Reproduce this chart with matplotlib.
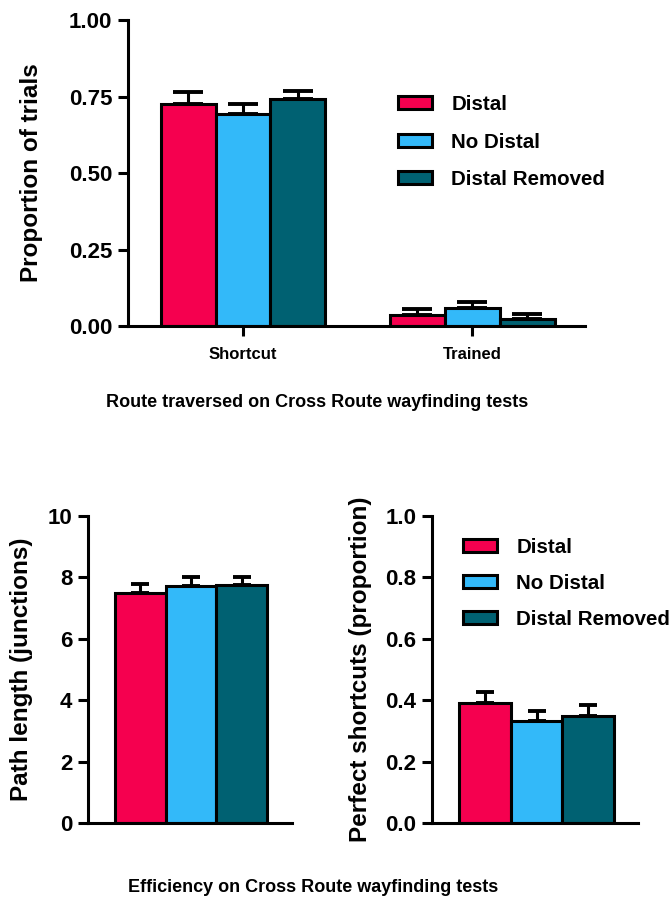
import matplotlib
matplotlib.use("Agg")
import matplotlib.pyplot as plt
import numpy as np
from matplotlib.patches import Patch

plt.rcParams['font.family'] = ['Liberation Sans', 'DejaVu Sans']
plt.rcParams['font.weight'] = 'bold'

groups = ["Distal", "No Distal", "Distal Removed"]
colors = ["#F5004F", "#33B9F9", "#006172"]

# Top chart: route traversed
route_cats = ["Shortcut", "Trained"]
route_mean = {"Distal": [0.727, 0.036],
              "No Distal": [0.692, 0.059],
              "Distal Removed": [0.741, 0.024]}
route_err = {"Distal": [0.038, 0.018],
             "No Distal": [0.035, 0.018],
             "Distal Removed": [0.028, 0.014]}

# Bottom left: path length
path_mean = [7.50, 7.73, 7.75]
path_err = [0.30, 0.27, 0.27]

# Bottom right: perfect shortcuts
perf_mean = [0.390, 0.333, 0.349]
perf_err = [0.037, 0.033, 0.034]

W, H = 671, 907
fig = plt.figure(figsize=(W/100, H/100), dpi=100)

LW = 2.2
TICK_FS = 16
LAB_FS = 17.5


def style_axes(ax):
    for s in ['top', 'right']:
        ax.spines[s].set_visible(False)
    for s in ['left', 'bottom']:
        ax.spines[s].set_linewidth(LW)
    ax.tick_params(axis='y', length=7.2, width=LW, labelsize=TICK_FS, pad=4)
    ax.tick_params(axis='x', length=7.2, width=LW, labelsize=12, pad=8)
    for lab in ax.get_yticklabels():
        lab.set_fontweight('bold')


def add_legend(ax, fx, fy, spacing):
    handles = [Patch(facecolor=c, edgecolor='black', linewidth=LW) for c in colors]
    leg = ax.legend(handles, groups, loc='upper left', bbox_to_anchor=(fx, fy),
                    bbox_transform=fig.transFigure, frameon=False, fontsize=14.8,
                    handlelength=1.65, handleheight=0.58, handletextpad=0.95,
                    labelspacing=spacing, borderpad=0, borderaxespad=0)
    for t in leg.get_texts():
        t.set_fontweight('bold')


# ---- Top chart
ax1 = fig.add_axes([128/W, 1-326/H, (585-128)/W, (326-20)/H])
x = np.arange(len(route_cats))
bw = 0.24
for i, g in enumerate(groups):
    xs = x + (i-1)*bw
    ax1.bar(xs, route_mean[g], width=bw, color=colors[i], edgecolor='black',
            linewidth=LW, zorder=2)
    ax1.errorbar(xs, route_mean[g], yerr=[np.zeros(len(xs)), route_err[g]],
                 fmt='none', ecolor='black', elinewidth=LW, capsize=10.5,
                 capthick=2.8, zorder=1)
ax1.set_xlim(-0.502, 1.493)
ax1.set_ylim(0, 1.0)
ax1.set_yticks([0, 0.25, 0.5, 0.75, 1.0])
ax1.set_yticklabels(["0.00", "0.25", "0.50", "0.75", "1.00"])
ax1.set_xticks(x)
ax1.set_xticklabels(route_cats, fontweight='bold')
ax1.spines['left'].set_bounds(0, 1.0)
style_axes(ax1)
ax1.set_ylabel("Proportion of trials", fontsize=LAB_FS, fontweight='bold')
ax1.yaxis.set_label_coords(-0.186, 0.5)
add_legend(ax1, 398/W, 1-95/H, 0.9)

fig.text(317/W, 1-402/H, "Route traversed on Cross Route wayfinding tests", fontsize=13,
         fontweight='bold', ha='center', va='center')

# ---- Bottom left
ax2 = fig.add_axes([88/W, 1-823/H, (292-88)/W, (823-516)/H])
xb = np.array([-1.0, 0.0, 1.0])
ax2.bar(xb, path_mean, width=1.0, color=colors, edgecolor='black', linewidth=LW, zorder=2)
ax2.errorbar(xb, path_mean, yerr=[np.zeros(3), path_err], fmt='none', ecolor='black',
             elinewidth=LW, capsize=6.5, capthick=2.8, zorder=1)
ax2.set_xlim(-2.03, 1.99)
ax2.set_ylim(0, 10)
ax2.set_yticks([0, 2, 4, 6, 8, 10])
ax2.set_xticks([])
style_axes(ax2)
ax2.set_ylabel("Path length (junctions)", fontsize=LAB_FS, fontweight='bold')
ax2.yaxis.set_label_coords(-0.27, 0.5)

# ---- Bottom right
ax3 = fig.add_axes([432/W, 1-823/H, (638-432)/W, (823-516)/H])
ax3.bar(xb, perf_mean, width=1.0, color=colors, edgecolor='black', linewidth=LW, zorder=2)
ax3.errorbar(xb, perf_mean, yerr=[np.zeros(3), perf_err], fmt='none', ecolor='black',
             elinewidth=LW, capsize=6.5, capthick=2.8, zorder=1)
ax3.set_xlim(-2.02, 1.96)
ax3.set_ylim(0, 1.0)
ax3.set_yticks([0, 0.2, 0.4, 0.6, 0.8, 1.0])
ax3.set_yticklabels(["0.0", "0.2", "0.4", "0.6", "0.8", "1.0"])
ax3.set_xticks([])
style_axes(ax3)
ax3.set_ylabel("Perfect shortcuts (proportion)", fontsize=LAB_FS, fontweight='bold')
ax3.yaxis.set_label_coords(-0.29, 0.5)
add_legend(ax3, 463/W, 1-538/H, 0.82)

fig.text(313/W, 1-888/H, "Efficiency on Cross Route wayfinding tests", fontsize=13,
         fontweight='bold', ha='center', va='center')

fig.savefig("out.png", dpi=100)
